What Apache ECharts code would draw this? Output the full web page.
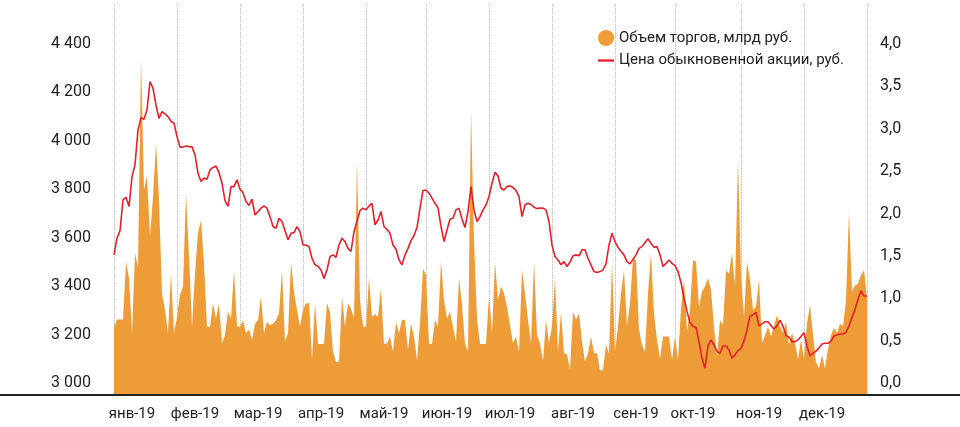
<!DOCTYPE html>
<html>
<head>
<meta charset="utf-8">
<script src="https://cdn.jsdelivr.net/npm/echarts@6/dist/echarts.min.js"></script>
<style>
    html, body { margin: 0; padding: 0; background: #fff; }
    #chart { width: 960px; height: 427px; }
</style>
</head>
<body>
<div id="chart"></div>
<script>
// months and where they sit on the trading-day scale
var monthNames = ['янв-19', 'фев-19', 'мар-19', 'апр-19', 'май-19', 'июн-19', 'июл-19', 'авг-19', 'сен-19', 'окт-19', 'ноя-19', 'дек-19'];
var monthStart = [0, 21, 42, 63, 84, 104, 125, 146, 167, 187, 209, 230, 251];
var monthLabelAt = [6, 27, 48, 69, 90, 111, 132, 153, 174, 193, 215, 236];

// tick labels
var priceTicks = [3000, 3200, 3400, 3600, 3800, 4000, 4200, 4400];
var volumeTicks = [0, 0.5, 1, 1.5, 2, 2.5, 3, 3.5, 4];

// цена обыкновенной акции, руб. (daily)
var price = [
    3529, 3598, 3628, 3756, 3767, 3729, 3852, 3901, 4045, 4096, 4089, 4128, 4245, 4217, 4148, 4093, 4121, 4111, 4100, 4080, 4073,
    4018, 3974, 3974, 3979, 3976, 3975, 3942, 3866, 3832, 3846, 3841, 3880, 3890, 3896, 3869, 3825, 3753, 3729, 3811, 3811, 3839,
    3800, 3786, 3749, 3733, 3759, 3694, 3708, 3722, 3731, 3722, 3687, 3646, 3639, 3680, 3667, 3629, 3591, 3618, 3621, 3646, 3625,
    3570, 3570, 3563, 3515, 3488, 3482, 3467, 3432, 3467, 3522, 3529, 3519, 3570, 3598, 3584, 3556, 3543, 3625, 3667, 3712, 3722,
    3715, 3731, 3742, 3653, 3673, 3708, 3646, 3634, 3618, 3570, 3552, 3508, 3488, 3529, 3556, 3588, 3609, 3643, 3722, 3795, 3797,
    3784, 3763, 3742, 3724, 3646, 3584, 3632, 3676, 3680, 3715, 3722, 3677, 3642, 3708, 3811, 3715, 3667, 3687, 3715, 3735, 3770,
    3825, 3870, 3855, 3804, 3797, 3811, 3814, 3807, 3795, 3770, 3687, 3735, 3742, 3737, 3726, 3720, 3722, 3722, 3715, 3667, 3570,
    3522, 3508, 3488, 3501, 3481, 3499, 3525, 3529, 3525, 3550, 3550, 3515, 3488, 3460, 3456, 3460, 3467, 3492, 3570, 3618, 3584,
    3560, 3544, 3529, 3501, 3492, 3511, 3529, 3556, 3563, 3580, 3596, 3577, 3560, 3563, 3529, 3481, 3494, 3508, 3494, 3485, 3460,
    3415, 3350, 3295, 3249, 3233, 3230, 3171, 3102, 3061, 3153, 3178, 3157, 3130, 3123, 3153, 3153, 3136, 3102, 3116, 3134, 3143,
    3174, 3219, 3277, 3282, 3291, 3236, 3244, 3253, 3253, 3237, 3223, 3236, 3260, 3233, 3197, 3189, 3171, 3171, 3178, 3192, 3208,
    3153, 3112, 3123, 3131, 3145, 3161, 3164, 3164, 3174, 3194, 3198, 3202, 3202, 3209, 3236, 3271, 3304, 3346, 3381, 3359, 3359
];

// объем торгов, млрд руб. (daily)
var volume = [
    0.65, 0.75, 0.75, 0.75, 1.43, 1.24, 0.59, 1.53, 1.37, 3.83, 2.28, 2.44, 1.73, 2.2, 2.83, 2.16, 1.06, 0.86, 0.59, 1.29, 0.59,
    0.78, 1.04, 1.14, 2.24, 1.49, 0.67, 1.29, 1.77, 1.92, 1.41, 0.66, 0.66, 0.94, 0.76, 0.94, 0.47, 0.57, 0.84, 0.76, 1.33, 0.67,
    0.66, 0.74, 0.59, 0.63, 0.51, 0.7, 0.74, 1.02, 0.59, 0.72, 0.68, 0.7, 0.74, 0.82, 1.33, 0.49, 0.59, 1.43, 1.08, 0.86, 0.67,
    0.86, 0.94, 0.94, 0.29, 0.94, 0.46, 0.46, 0.46, 0.94, 0.84, 0.37, 0.25, 0.25, 1.02, 0.67, 0.94, 0.88, 0.76, 2.61, 0.98, 0.67,
    0.66, 1.24, 0.78, 0.81, 0.78, 1.12, 0.46, 0.47, 0.55, 0.37, 0.72, 0.59, 0.75, 0.74, 0.39, 0.7, 0.55, 0.27, 0.7, 1.35, 1.27,
    0.46, 0.46, 0.74, 0.67, 1.43, 0.98, 0.76, 0.84, 0.66, 0.49, 1.24, 0.92, 0.46, 0.37, 3.22, 1.69, 0.76, 0.46, 0.46, 0.46, 1.03,
    0.59, 1.43, 0.98, 1.14, 1.06, 0.9, 0.68, 0.47, 0.55, 0.37, 1.33, 1.06, 0.74, 0.47, 1.43, 0.57, 0.46, 0.26, 0.74, 0.47, 0.67,
    1.24, 0.37, 0.84, 0.35, 0.34, 0.16, 0.84, 0.75, 0.82, 0.49, 0.25, 0.35, 0.55, 0.35, 0.35, 0.15, 0.15, 0.45, 0.35, 1.43, 0.37,
    0.67, 1.06, 1.33, 0.67, 0.94, 1.47, 1.45, 0.63, 0.45, 0.37, 1.06, 1.53, 0.82, 0.51, 0.29, 0.55, 0.55, 0.55, 0.27, 0.55, 0.27,
    0.88, 1.22, 0.61, 0.86, 1.45, 1.43, 0.9, 1.08, 1.14, 1.24, 1.1, 0.66, 0.31, 0.74, 0.68, 1.33, 1.29, 1.53, 1.14, 2.63, 1.29,
    0.78, 1.43, 1.22, 0.86, 0.9, 1.22, 0.47, 0.56, 0.66, 0.55, 0.67, 0.8, 0.67, 0.59, 0.72, 0.45, 0.59, 0.47, 0.28, 0.51, 0.29,
    0.7, 0.92, 0.57, 0.25, 0.17, 0.33, 0.17, 0.4, 0.56, 0.65, 0.59, 0.7, 0.67, 0.98, 2.02, 1.08, 1.15, 1.17, 1.27, 1.33, 1.0
];

var days = price.map(function(v, i) {
    var k = monthLabelAt.indexOf(i);
    return k >= 0 ? monthNames[k] : '';
});

var chartDom = document.getElementById('chart');
var myChart = echarts.init(chartDom);
var option;

option = {
    animation: false,
    textStyle: { fontFamily: 'Roboto' },
    grid: {
        left: 114,
        right: 93,
        top: 4,
        bottom: 32
    },
    legend: {
        orient: 'vertical',
        left: 593,
        top: 25,
        itemWidth: 16,
        itemHeight: 16,
        itemGap: 7,
        textStyle: { fontSize: 15, color: '#222', fontFamily: 'Roboto' },
        data: [
            { name: 'Объем торгов, млрд руб.', icon: 'circle' },
            { name: 'Цена обыкновенной акции, руб.', icon: 'path://M0,0 H14 V2 H0 Z' }
        ]
    },
    xAxis: {
        type: 'category',
        boundaryGap: false,
        data: days,
        axisLine: { show: false },
        axisTick: { show: false },
        axisLabel: {
            interval: function(idx) { return monthLabelAt.indexOf(idx) >= 0; },
            margin: 12,
            fontSize: 15,
            color: '#222'
        },
        splitLine: {
            show: true,
            interval: function(idx) { return monthStart.indexOf(idx) >= 0; },
            lineStyle: { color: '#c4c4c4', type: 'dotted', width: 1 }
        }
    },
    yAxis: [{
            type: 'value',
            min: 2950.4,
            max: 4565,
            axisLine: { show: false },
            axisTick: { show: false },
            splitLine: { show: false },
            axisLabel: {
                customValues: priceTicks,
                margin: 23,
                fontSize: 16,
                color: '#222',
                formatter: function(v) { return String(v).replace(/(\d)(\d{3})$/, '$1 $2'); }
            }
        },
        {
            type: 'value',
            min: -0.1416,
            max: 4.472,
            axisLine: { show: false },
            axisTick: { show: false },
            splitLine: { show: false },
            axisLabel: {
                customValues: volumeTicks,
                margin: 13,
                fontSize: 16,
                color: '#222',
                formatter: function(v) { return v.toFixed(1).replace('.', ','); }
            }
        }
    ],
    series: [{
            name: 'Объем торгов, млрд руб.',
            type: 'line',
            yAxisIndex: 1,
            data: volume,
            symbol: 'none',
            lineStyle: { width: 0 },
            itemStyle: { color: '#ED9C38' },
            areaStyle: { color: '#ED9C38', opacity: 1, origin: 'start' },
            z: 2
        },
        {
            name: 'Цена обыкновенной акции, руб.',
            type: 'line',
            yAxisIndex: 0,
            data: price,
            symbol: 'none',
            lineStyle: { width: 1.6, color: '#E4202A' },
            itemStyle: { color: '#E4202A' },
            z: 3
        }
    ],
    graphic: [{
        type: 'line',
        shape: { x1: 0, y1: 395, x2: 960, y2: 395 },
        style: { stroke: '#222', lineWidth: 2 },
        z: 10
    }]
};

option && myChart.setOption(option);
</script>
</body>
</html>
